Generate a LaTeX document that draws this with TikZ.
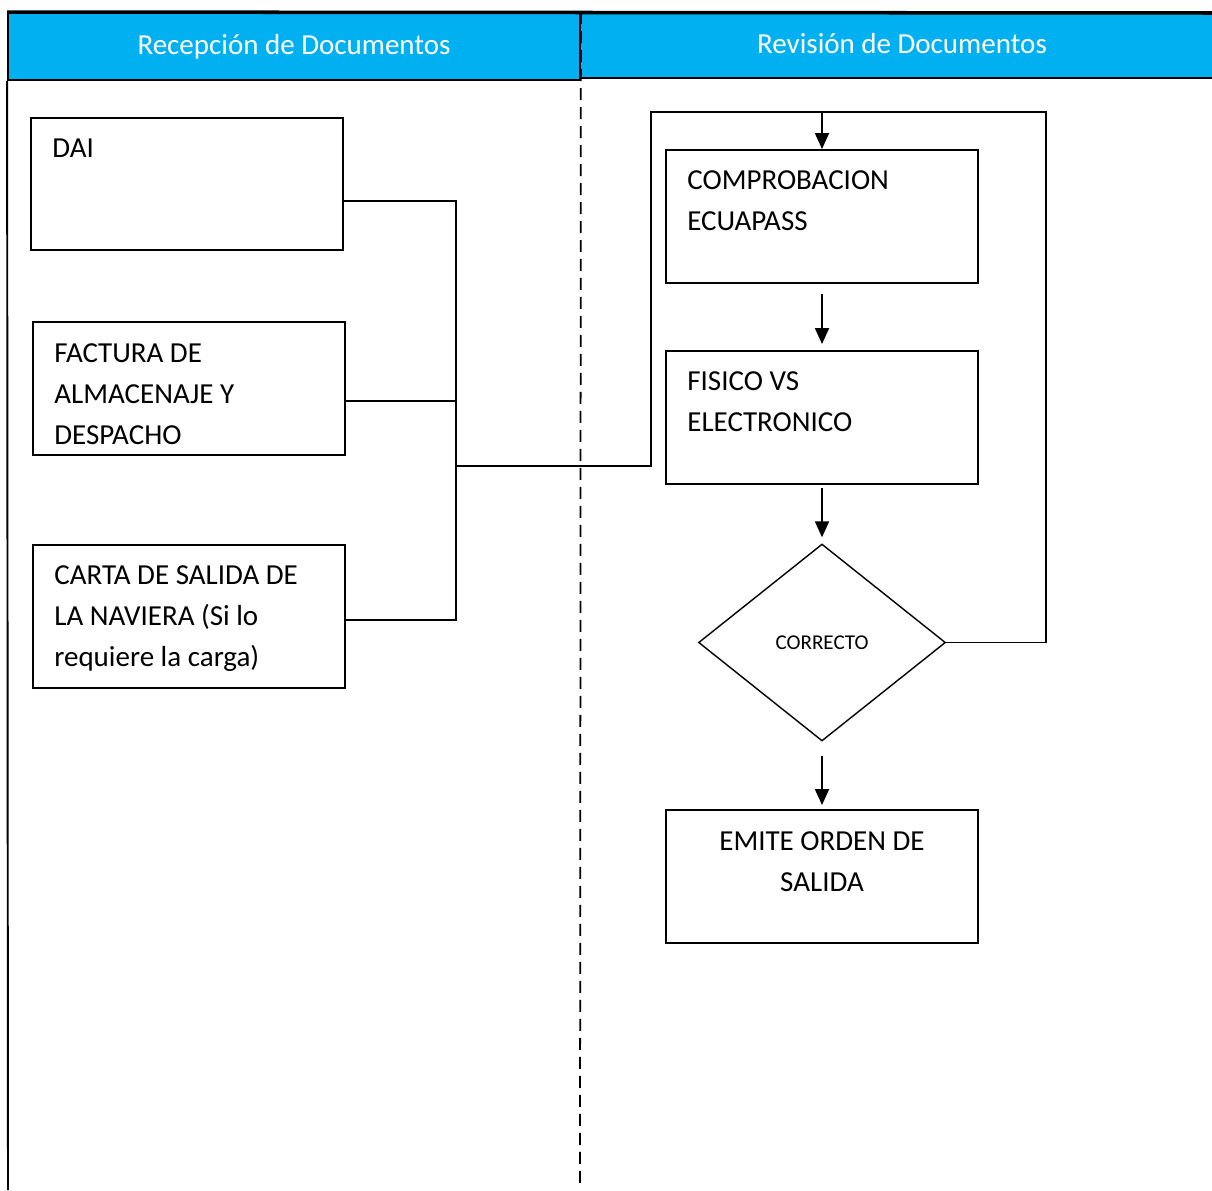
\documentclass[tikz,border=0pt]{standalone}
\usepackage{fontspec}
\setmainfont{Carlito}
\usetikzlibrary{shapes.geometric,arrows.meta}
\definecolor{carril}{HTML}{00B0F0}
\tikzset{
  cabecera/.style={draw, fill=carril, line width=1.1pt, inner sep=0pt, text=white,
    font=\fontsize{16.5pt}{20pt}\selectfont},
  caja/.style={draw, line width=1.1pt, minimum width=6.24cm, minimum height=2.66cm, inner sep=0pt},
  texto/.style={anchor=north west, inner sep=0pt, align=left,
    font=\fontsize{16.5pt}{23.3pt}\selectfont},
  linea/.style={line width=0.8pt},
  flecha/.style={line width=1.1pt, -{Triangle[length=0.32cm,width=0.28cm]}},
}
\begin{document}
\begin{tikzpicture}[x=0.02cm, y=-0.02cm]
  \useasboundingbox (0,0) rectangle (1212,1190);
  % carriles
  \node[cabecera, minimum width=11.44cm, minimum height=1.34cm] (recep) at (294,46.5)
    {\raisebox{0.07cm}{Recepción de Documentos}};
  \node[cabecera, minimum width=12.88cm, minimum height=1.30cm] (revis) at (902,45.5)
    {\raisebox{0.09cm}{Revisión de Documentos}};
  \draw[line width=2pt] (recep.north west) -- (1212,13);
  \draw[line width=1.1pt] (recep.south west) -- (8,1190);
  \draw[line width=1pt, dash pattern=on 0.24cm off 0.14cm] (recep.north east) -- (580,1186);
  % recepcion
  \node[caja, minimum height=2.64cm] (dai) at (187,184) {};
  \node[texto] (tdai) at (52,139) {DAI};
  \node[caja] (fact) at (189,388.5) {};
  \node[texto] (tfact) at (54,343) {FACTURA DE\\ALMACENAJE Y\\DESPACHO};
  \node[caja, minimum height=2.86cm] (carta) at (189,616.5) {};
  \node[texto] (tcarta) at (54,565) {CARTA DE SALIDA DE\\LA NAVIERA (Si lo\\requiere la carga)};
  % revision
  \node[caja] (comp) at (822,216.5) {};
  \node[texto] (tcomp) at (687,170) {COMPROBACION\\ECUAPASS};
  \node[caja] (fis) at (822,417.5) {};
  \node[texto] (tfis) at (687,371) {FISICO VS\\ELECTRONICO};
  \node[draw, diamond, aspect=1.25, line width=0.8pt, inner sep=0pt,
    minimum width=4.94cm, minimum height=3.94cm,
    font=\fontsize{12pt}{14pt}\selectfont] (corr) at (822,642.5) {CORRECTO};
  \node[caja] (emite) at (822,876.5) {};
  \node[texto, anchor=north, align=center] (temite) at (822,831) {EMITE ORDEN DE\\SALIDA};
  % conectores
  \coordinate (bus1) at (456,201);
  \coordinate (bus2) at (456,401);
  \coordinate (bus3) at (456,466);
  \coordinate (bus4) at (456,620);
  \coordinate (lazo1) at (651,112);
  \coordinate (lazo2) at (1046,112);
  \draw[linea] (dai.east |- bus1) -- (bus1) -- (bus4) -- (carta.east |- bus4);
  \draw[linea] (fact.east |- bus2) -- (bus2);
  \draw[linea] (bus3) -- (bus3 -| lazo1) -- (lazo1) -- (lazo2) -- (lazo2 |- corr.east) -- (corr.east);
  \draw[flecha] (comp.north |- lazo1) -- (comp.north);
  \draw[flecha, shorten <=0.2cm, shorten >=0.12cm] (comp) -- (fis);
  \draw[flecha, shorten <=0.06cm, shorten >=0.12cm] (fis) -- (corr);
  \draw[flecha, shorten <=0.28cm, shorten >=0.08cm] (corr) -- (emite);
\end{tikzpicture}
\end{document}
